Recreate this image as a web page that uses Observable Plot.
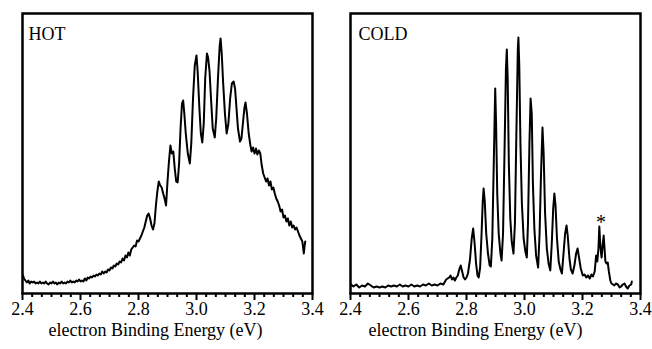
<!DOCTYPE html>
<html>
<head>
<meta charset="utf-8">
<script src="https://cdn.jsdelivr.net/npm/d3@7"></script>
<script src="https://cdn.jsdelivr.net/npm/@observablehq/plot@0.6"></script>
<style>
  html, body { margin: 0; padding: 0; background: #fff; }
  #wrap { display: flex; width: 652px; height: 349px; }
</style>
</head>
<body>
<div id="wrap"></div>
<script>
// ---- data ----
const majorTicks = [2.4, 2.6, 2.8, 3.0, 3.2, 3.4];
const panelLabels = ["HOT", "COLD"];
const axisTitle = "electron Binding Energy (eV)";

const hotE = [2.402,2.405,2.410,2.415,2.420,2.425,2.430,2.435,2.440,2.445,2.450,2.455,2.460,2.465,2.470,2.475,2.480,2.485,2.490,2.495,2.500,2.505,2.510,2.515,2.520,2.525,2.530,2.535,2.540,2.545,2.550,2.555,2.560,2.565,2.570,2.575,2.580,2.585,2.590,2.595,2.600,2.605,2.610,2.615,2.620,2.625,2.630,2.635,2.640,2.645,2.650,2.655,2.660,2.665,2.670,2.675,2.680,2.685,2.690,2.695,2.700,2.705,2.710,2.715,2.720,2.725,2.730,2.735,2.740,2.745,2.750,2.755,2.760,2.765,2.770,2.775,2.780,2.785,2.790,2.795,2.800,2.805,2.810,2.815,2.820,2.825,2.830,2.835,2.840,2.845,2.850,2.855,2.860,2.865,2.870,2.875,2.880,2.885,2.890,2.895,2.900,2.905,2.910,2.915,2.920,2.925,2.930,2.935,2.940,2.945,2.950,2.954,2.958,2.963,2.970,2.977,2.982,2.988,2.994,3.000,3.004,3.010,3.015,3.020,3.025,3.030,3.036,3.040,3.045,3.050,3.056,3.063,3.068,3.074,3.080,3.083,3.087,3.092,3.098,3.104,3.110,3.116,3.122,3.128,3.133,3.138,3.143,3.150,3.155,3.160,3.165,3.169,3.174,3.180,3.186,3.190,3.195,3.200,3.205,3.210,3.215,3.220,3.225,3.230,3.235,3.240,3.245,3.250,3.255,3.260,3.265,3.270,3.275,3.280,3.285,3.290,3.295,3.300,3.305,3.310,3.315,3.320,3.325,3.330,3.335,3.340,3.345,3.350,3.355,3.360,3.365,3.370,3.373,3.375];
const hotI = [18,15,13,11,13,10,12,11,12,10,11,10,12,10,11,10,12,10,9,11,10,12,10,11,9,11,10,12,10,11,10,12,11,13,11,12,11,13,12,14,12,13,12,15,13,16,15,17,16,18,17,19,18,20,19,22,20,22,21,24,23,26,25,28,27,30,29,32,31,35,33,38,36,41,38,44,46,48,47,53,52,55,58,62,66,72,78,80,75,68,64,70,88,102,112,108,106,100,95,88,112,132,148,140,142,125,112,111,130,165,190,193,180,160,140,130,150,195,228,238,222,185,160,151,170,215,240,236,222,195,165,156,175,215,248,255,240,210,180,160,170,195,210,212,205,185,165,152,155,170,185,191,180,160,148,142,146,140,145,139,143,140,128,120,116,112,115,108,112,104,106,100,95,92,88,82,84,76,78,72,75,68,72,66,68,64,66,62,58,55,52,40,48,52];

const coldE = [2.402,2.41,2.42,2.43,2.44,2.45,2.46,2.47,2.48,2.49,2.50,2.51,2.52,2.53,2.54,2.55,2.56,2.57,2.58,2.59,2.60,2.61,2.62,2.63,2.64,2.65,2.66,2.67,2.68,2.69,2.70,2.71,2.72,2.73,2.74,2.745,2.75,2.755,2.76,2.765,2.77,2.775,2.780,2.785,2.790,2.795,2.80,2.805,2.812,2.818,2.823,2.828,2.833,2.838,2.842,2.847,2.852,2.856,2.859,2.863,2.868,2.874,2.880,2.884,2.889,2.894,2.899,2.902,2.906,2.911,2.917,2.921,2.926,2.931,2.936,2.939,2.942,2.946,2.951,2.956,2.962,2.967,2.972,2.977,2.979,2.982,2.986,2.991,2.997,3.003,3.008,3.012,3.017,3.021,3.025,3.029,3.034,3.040,3.047,3.052,3.057,3.062,3.066,3.071,3.077,3.083,3.089,3.094,3.099,3.103,3.107,3.112,3.118,3.124,3.129,3.134,3.140,3.145,3.149,3.155,3.160,3.166,3.172,3.178,3.183,3.188,3.194,3.201,3.207,3.213,3.219,3.225,3.231,3.236,3.242,3.247,3.251,3.255,3.258,3.261,3.264,3.266,3.270,3.273,3.276,3.279,3.283,3.287,3.291,3.296,3.300,3.305,3.310,3.315,3.322,3.328,3.333,3.339,3.345,3.350,3.356,3.362,3.368,3.370];
const coldI = [9,7,9,6,8,7,10,8,6,7,6,7,6,8,7,8,7,9,7,8,7,9,7,8,7,9,8,10,8,9,8,10,9,14,16,18,14,16,13,16,18,24,28,22,16,14,16,20,34,55,65,50,30,18,16,26,60,92,105,92,60,40,28,27,55,130,205,170,100,60,40,33,60,140,225,244,215,130,75,52,40,70,160,245,256,228,150,90,55,42,36,70,150,195,180,110,65,38,26,60,120,166,140,80,45,30,23,50,85,100,88,55,32,24,20,38,60,68,58,35,24,20,28,40,45,36,25,18,19,16,18,15,19,17,22,38,32,45,67,50,40,36,50,58,45,32,30,31,22,13,10,9,8,10,9,6,7,9,10,7,5,8,9,12];

const markerE = [3.264];
const markerI = [71];
const markerText = ["*"];

// ---- drawing ----
const font = "Liberation Serif";
const minorTicks = d3.range(0, 31).map(i => 2.4 + i / 30).filter(v => Math.abs(((v - 2.4) * 5) - Math.round((v - 2.4) * 5)) > 1e-6);

function panel(E, I, label, mLeft, mRight, labelDx, titleDx, extra) {
  const data = E.map((e, i) => ({e, v: I[i]}));
  return Plot.plot({
    width: 326,
    height: 349,
    marginLeft: mLeft,
    marginRight: mRight,
    marginTop: 13,
    marginBottom: 56,
    style: {fontFamily: font, background: "#fff", color: "#000"},
    x: {domain: [2.4, 3.4]},
    y: {domain: [0, 280], axis: null},
    marks: [
      Plot.axisX(minorTicks, {tickSize: 4, tickFormat: () => "", strokeWidth: 2, label: null}),
      Plot.axisX(majorTicks, {tickSize: 7, tickPadding: 2, tickFormat: d => d.toFixed(1), strokeWidth: 2,
        fontSize: 18, fontFamily: font, label: null}),
      Plot.text([axisTitle], {frameAnchor: "bottom", lineAnchor: "middle", dx: titleDx, dy: 37, text: d => d, fontSize: 18, fontFamily: font, fill: "#000"}),
      Plot.line(data, {x: "e", y: "v", stroke: "#000", strokeWidth: 2, strokeLinejoin: "round"}),
      Plot.text([label], {frameAnchor: "top-left", dx: labelDx, dy: 14, text: d => d, fontSize: 18, fontFamily: font, fill: "#000"}),
      ...extra,
      Plot.frame({stroke: "#000", strokeWidth: 2.5})
    ]
  });
}

const wrap = document.getElementById("wrap");
wrap.append(panel(hotE, hotI, panelLabels[0], 22, 14, 6, -12, []));
const mk = markerE.map((e, i) => ({e, v: markerI[i], t: markerText[i]}));
wrap.append(panel(coldE, coldI, panelLabels[1], 24, 12, 8, -20, [
  Plot.text(mk, {x: "e", y: "v", text: "t", fontSize: 20, fontFamily: font, fill: "#000"})
]));
</script>
</body>
</html>
